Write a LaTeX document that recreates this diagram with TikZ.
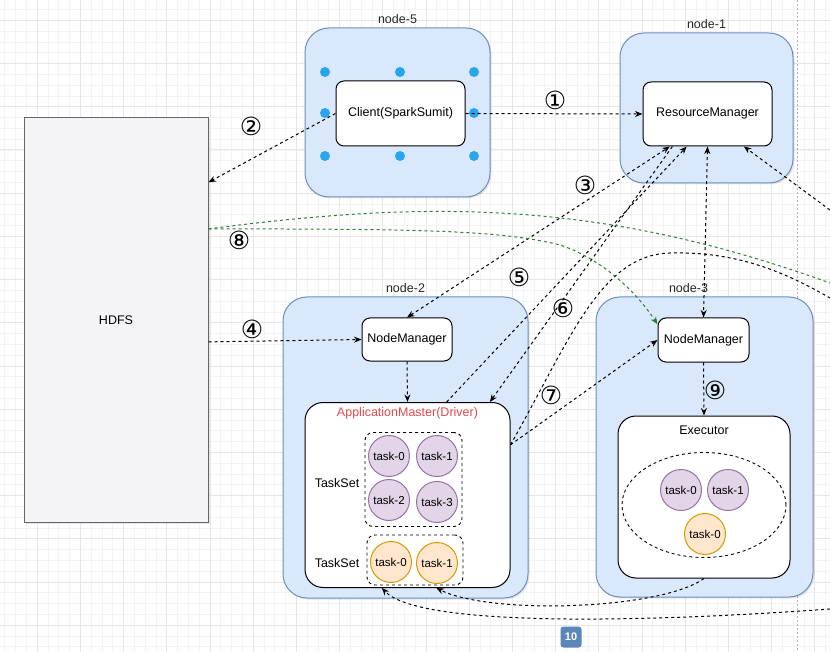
\documentclass[tikz,border=0pt]{standalone}
\usepackage{fontspec}
\setmainfont{Liberation Sans}
\newfontfamily\circfont{DejaVu Sans}
\usetikzlibrary{arrows.meta,calc,shadows,shapes.geometric}

\definecolor{hostfill}{HTML}{DAE8FC}
\definecolor{hostline}{HTML}{6C8EBF}
\definecolor{purplefill}{HTML}{E1D5E7}
\definecolor{purpleline}{HTML}{9673A6}
\definecolor{orangefill}{HTML}{FFE6CC}
\definecolor{orangeline}{HTML}{D79B00}
\definecolor{amred}{HTML}{E5484D}
\definecolor{hdfsfill}{HTML}{F4F4F6}
\definecolor{flowgreen}{HTML}{2E7D32}
\definecolor{handle}{HTML}{29A5F0}
\definecolor{badge}{HTML}{5B86B8}
\definecolor{gridminor}{HTML}{F3F3F3}
\definecolor{gridmajor}{HTML}{E6E6E6}

\tikzset{
	every host/.style={
		draw=hostline,
		fill=hostfill,
		line width=1pt,
		rounded corners=24pt,
		drop shadow={shadow xshift=1.5pt, shadow yshift=-1.5pt, opacity=0.2}
	},
	host label/.style={text=black!85},
	proc/.style={
		draw,
		fill=white,
		line width=1pt,
		rounded corners=8pt
	},
	container/.style={
		draw,
		fill=white,
		line width=1pt,
		rounded corners=18pt
	},
	task group/.style={
		draw,
		dashed,
		line width=0.9pt,
		rounded corners=8pt
	},
	task/.style={
		circle,
		draw,
		line width=1pt,
		minimum size=41pt,
		inner sep=0pt,
		font=\fontsize{11.5}{13}\selectfont
	},
	task purple/.style={task, fill=purplefill, draw=purpleline},
	task orange/.style={task, fill=orangefill, draw=orangeline},
	flow/.style={
		->,
		line width=1pt,
		dash pattern=on 3pt off 3pt
	},
	flow green/.style={flow, draw=flowgreen},
	num/.style={
		inner sep=0pt,
		font=\circfont\fontsize{25}{25}\selectfont
	},
}

\begin{document}
\begin{tikzpicture}[x=1pt, y=-1pt, >={Stealth[length=7.5pt,width=6pt]}, font=\fontsize{12.5}{15}\selectfont]

\useasboundingbox (0,0) rectangle (830,652);

% grid
\foreach \i in {0,...,76}
	\draw[gridminor, line width=0.5pt] (4.6+\i*10.8,0) -- ++(0,652);
\foreach \i in {0,...,60}
	\draw[gridminor, line width=0.5pt] (0,9.4+\i*10.8) -- ++(830,0);
\foreach \i in {0,...,18}
	\draw[gridmajor, line width=0.6pt] (37+\i*43.2,0) -- ++(0,652);
\foreach \i in {0,...,14}
	\draw[gridmajor, line width=0.6pt] (0,20.2+\i*43.2) -- ++(830,0);
\draw[black!30, line width=1pt, dash pattern=on 2pt off 2pt] (797,0) -- (797,652);

% storage
\node [draw=black!60, fill=hdfsfill, line width=1pt, minimum width=184pt, minimum height=404pt,
	drop shadow={shadow xshift=1.5pt, shadow yshift=-1.5pt, opacity=0.2}] (hdfs) at (116,320) {HDFS};

% hosts
\node [every host, minimum width=185pt, minimum height=169pt, label={[host label]above:node-5}] (host-5) at (397.5,112.5) {};
\node [every host, minimum width=173pt, minimum height=150pt, label={[host label]above:node-1}] (host-1) at (706.5,108) {};
\node [every host, minimum width=245pt, minimum height=301pt, label={[host label]above:node-2}] (host-2) at (405.5,447.5) {};
\node [every host, minimum width=217pt, minimum height=300pt, label={[host label, xshift=-16pt]above:node-3}] (host-3) at (704.5,447) {};

% processes
\node [proc, minimum width=129pt, minimum height=65pt] (client) at (400.5,113.5) {Client(SparkSumit)};
\node [proc, minimum width=129pt, minimum height=64pt] (rm) at (707.5,114) {ResourceManager};
\node [proc, minimum width=90pt, minimum height=43pt] (nm-2) at (407,339.5) {NodeManager};
\node [proc, minimum width=91pt, minimum height=44pt] (nm-3) at (703.5,340) {NodeManager};

\foreach \hx/\hy in {325/72,400/72,474/72,325/113,474/113,325/156,400/156,474/156}
	\fill[handle] (\hx,\hy) circle (5pt);

\node [container, minimum width=205pt, minimum height=185pt,
	label={[anchor=north, yshift=-2pt, text=amred]north:ApplicationMaster(Driver)}] (am) at (407.5,495) {};
\node [container, minimum width=172pt, minimum height=162pt,
	label={[anchor=north, yshift=-7pt]north:Executor}] (exec) at (704,497) {};

% task sets
\node [task group, minimum width=97pt, minimum height=94pt] (set-1) at (413.5,479.5) {};
\node [task group, minimum width=96pt, minimum height=50pt] (set-2) at (415,560) {};
\node (set-1-name) at (337,483) {TaskSet};
\node (set-2-name) at (337,563) {TaskSet};
\node [draw, dashed, ellipse, line width=0.9pt, minimum width=164pt, minimum height=105pt] (pool) at (704,505) {};

\foreach \n/\px/\py in {0/389/456, 1/437/456, 2/389/500, 3/437/502}
	\node [task purple] (drv-a\n) at (\px,\py) {task-\n};
\foreach \n/\px/\py in {0/391/562, 1/437/563}
	\node [task orange] (drv-b\n) at (\px,\py) {task-\n};
\foreach \n/\px/\py in {0/681/490, 1/728/490}
	\node [task purple] (exe-a\n) at (\px,\py) {task-\n};
\node [task orange] (exe-b0) at (705,534) {task-0};

% loose ends
\coordinate (off-a) at (830,210);
\coordinate (off-b) at (830,298);
\coordinate (off-c) at (830,283);
\coordinate (off-d) at (830,609);

% steps
\draw[flow] (client.east) -- (rm.west);
\draw[flow] (client.west) -- ($(hdfs.north east)!0.16!(hdfs.south east)$);
\draw[flow, <->] (nm-2.north) -- ($(rm.south west)!0.21!(rm.south east)$);
\draw[flow] ($(hdfs.north east)!0.554!(hdfs.south east)$) -- (nm-2.west);
\draw[flow] (nm-2.south) -- (am.north);
\draw[flow] ($(am.north west)!0.69!(am.north east)$) -- ($(rm.south west)!0.34!(rm.south east)$);
\draw[flow] ($(rm.south west)!0.23!(rm.south east)$) -- ($(am.north west)!0.9!(am.north east)$);
\draw[flow] ($(am.north east)!0.23!(am.south east)$) -- (nm-3.west);
\draw[flow, -] ($(am.north east)!0.23!(am.south east)$) .. controls (570,340) and (600,255) .. (670,253)
	.. controls (740,251) and (790,275) .. (off-b);
\draw[flow, <->] (rm.south) -- (nm-3.north);
\draw[flow] (nm-3.south) -- (exec.north);
\draw[flow] (off-a) -- ($(rm.south west)!0.78!(rm.south east)$);
\draw[flow green, -] ($(hdfs.north east)!0.275!(hdfs.south east)$) .. controls (430,200) and (600,200) .. (off-c);
\draw[flow green] ($(hdfs.north east)!0.275!(hdfs.south east)$) .. controls (420,229) and (500,230) .. (560,245)
	.. controls (600,258) and (635,290) .. ($(nm-3.north west)!0.15!(nm-3.south west)$);
\draw[flow] (exec.south) .. controls (660,610) and (490,615) .. ($(am.south west)!0.64!(am.south east)$);
\draw[flow] (off-d) .. controls (650,622) and (420,628) .. ($(am.south west)!0.375!(am.south east)$);

% step numbers
\foreach \l/\px/\py [count=\i] in {①/555/100, ②/251/126, ③/585/185, ④/252/329, ⑤/519/277, ⑥/563/308, ⑦/551/395, ⑧/239/240, ⑨/715/390}
	\node [num] (num-\i) at (\px,\py) {\l};
\node [fill=badge, rounded corners=3pt, text=white, minimum size=21pt, inner sep=0pt,
	font=\bfseries\fontsize{11}{11}\selectfont] (num-10) at (571,637) {10};

\end{tikzpicture}
\end{document}
